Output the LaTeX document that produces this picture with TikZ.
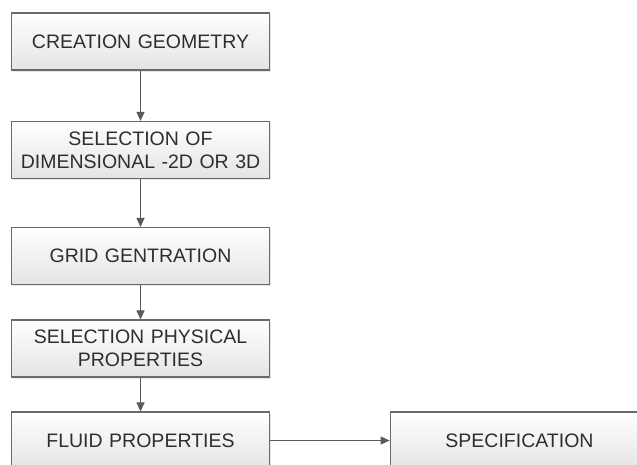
\documentclass[tikz,border=0pt]{standalone}
\usepackage{fontspec}
\setmainfont{Liberation Sans}
\usetikzlibrary{arrows.meta,shadows}
\definecolor{boxline}{HTML}{6A6A6A}
\definecolor{boxtext}{HTML}{2E2E2E}
\definecolor{boxbot}{HTML}{E4E4E4}
\tikzset{
  stepbox/.style={draw=boxline, line width=1.1pt, top color=white, bottom color=boxbot,
    minimum width=257pt, minimum height=57pt, text width=252pt, align=center,
    font=\fontsize{19.5}{23}\selectfont, text=boxtext,
    drop shadow={opacity=0.2, shadow xshift=1.5pt, shadow yshift=-1.5pt}},
  flow/.style={draw=boxline!85!black, line width=1pt, -{Triangle[length=9pt,width=8pt]}}
}
\begin{document}
\begin{tikzpicture}[x=1pt, y=-1pt]
  \useasboundingbox (0,0) rectangle (637,464);
  \clip (0,0) rectangle (637,464);
  \node[stepbox] (geom) at (140.5,41.5) {CREATION GEOMETRY};
  \node[stepbox] (dim) at (140.5,150) {SELECTION OF\\DIMENSIONAL -2D OR 3D};
  \node[stepbox] (grid) at (140.5,256) {GRID GENTRATION};
  \node[stepbox] (phys) at (140.5,348.5) {SELECTION PHYSICAL\\PROPERTIES};
  \node[stepbox] (fluid) at (140.5,440.5) {FLUID PROPERTIES};
  \node[stepbox] (spec) at (519.5,440.5) {SPECIFICATION};
  \draw[flow] (geom) -- (dim);
  \draw[flow] (dim) -- (grid);
  \draw[flow] (grid) -- (phys);
  \draw[flow] (phys) -- (fluid);
  \draw[flow] (fluid) -- (spec);
\end{tikzpicture}
\end{document}
